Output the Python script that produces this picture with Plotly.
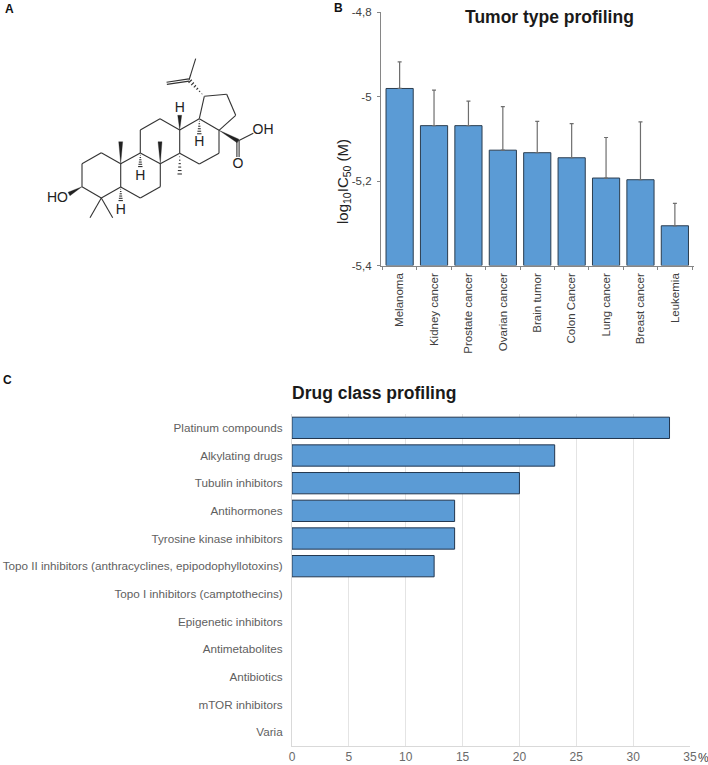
import math
import plotly.graph_objects as go

# Panel B
tumor_types = ["Melanoma", "Kidney cancer", "Prostate cancer", "Ovarian cancer", "Brain tumor",
               "Colon Cancer", "Lung cancer", "Breast cancer", "Leukemia"]
log_ic50 = [-4.981, -5.069, -5.069, -5.127, -5.133, -5.145, -5.193, -5.197, -5.306]
log_ic50_upper = [-4.918, -4.985, -5.011, -5.024, -5.059, -5.064, -5.097, -5.060, -5.253]
b_tickvals = [-4.8, -5.0, -5.2, -5.4]
b_ticktext = ["-4,8", "-5", "-5,2", "-5,4"]

# Panel C
drug_classes = ["Platinum compounds", "Alkylating drugs", "Tubulin inhibitors", "Antihormones",
                "Tyrosine kinase inhibitors", "Topo II inhibitors (anthracyclines, epipodophyllotoxins)",
                "Topo I inhibitors (camptothecins)", "Epigenetic inhibitors", "Antimetabolites",
                "Antibiotics", "mTOR inhibitors", "Varia"]
drug_pct = [33.2, 23.1, 20.0, 14.3, 14.3, 12.5, 0, 0, 0, 0, 0, 0]
c_ticks = [0, 5, 10, 15, 20, 25, 30, 35]

# Panel A: molecule in figure pixels
atoms = {
    "a1": (101.3, 152.7), "a2": (82, 163.7), "a3": (82, 186.7), "a4": (101.3, 198), "a5": (120.7, 187), "a6": (120.7, 163.7),
    "b1": (140.3, 153), "b2": (160.3, 163.7), "b3": (160.3, 186.7), "b4": (140.3, 198),
    "c1": (140.3, 130), "c2": (160, 118.7), "c3": (179.7, 130), "c4": (179.7, 153.3),
    "d1": (199.3, 118.7), "d2": (219, 130.3), "d3": (219, 153.3), "d4": (199.3, 164),
    "e1": (204.3, 96.3), "e2": (226.7, 94.3), "e3": (235.7, 115.3),
    "f": (189, 80), "f_me": (195.7, 58.7), "f_ch2": (166.7, 83.3),
    "g": (238, 141), "g_oh": (253.3, 133.3), "g_o": (238, 157),
    "m1": (120.7, 141.7), "m2": (160, 141.7), "m3": (179.7, 175.7),
    "q1": (90, 217.7), "q2": (112.7, 217.7), "oh": (69, 194),
    "h1": (179.7, 115.3), "h2": (199.3, 135), "h3": (140.3, 167.7), "h4": (120.7, 201.7),
}
plain_bonds = [("a1", "a2"), ("a2", "a3"), ("a3", "a4"), ("a4", "a5"), ("a5", "a6"), ("a6", "a1"),
               ("a6", "b1"), ("b1", "b2"), ("b2", "b3"), ("b3", "b4"), ("b4", "a5"),
               ("b1", "c1"), ("c1", "c2"), ("c2", "c3"), ("c3", "c4"), ("c4", "b2"),
               ("c3", "d1"), ("d1", "d2"), ("d2", "d3"), ("d3", "d4"), ("d4", "c4"),
               ("d1", "e1"), ("e1", "e2"), ("e2", "e3"), ("e3", "d2"),
               ("f", "f_me"), ("g", "g_oh"), ("a4", "q1"), ("a4", "q2")]
double_bonds = [("f", "f_ch2"), ("g", "g_o")]
wedge_bonds = [("a6", "m1"), ("b2", "m2"), ("a3", "oh"), ("d2", "g"), ("c3", "h1")]
hash_bonds = [("e1", "f"), ("c4", "m3"), ("d1", "h2"), ("b1", "h3"), ("a5", "h4")]
atom_labels = ["H", "H", "H", "H", "HO", "OH", "O"]
atom_label_x = [179.7, 199.3, 140.3, 120.7, 57.5, 263, 238]
atom_label_y = [108, 142, 176, 210, 198, 130.5, 164]

panel_letters = ["A", "B", "C"]
panel_letter_x = [9, 338, 7]
panel_letter_y = [9, 8, 380]
WIDTH, HEIGHT = 708, 765
BLUE = "#5b9bd5"


def normal(p, q):
    dx, dy = q[0] - p[0], q[1] - p[1]
    n = math.hypot(dx, dy)
    return -dy / n, dx / n


bx, by = [], []
for u, v in plain_bonds:
    bx += [atoms[u][0], atoms[v][0], None]
    by += [atoms[u][1], atoms[v][1], None]
for u, v in double_bonds:
    p, q = atoms[u], atoms[v]
    nx, ny = normal(p, q)
    for s in (-1.1, 1.1):
        bx += [p[0] + s * nx, q[0] + s * nx, None]
        by += [p[1] + s * ny, q[1] + s * ny, None]
for u, v in hash_bonds:
    p, q = atoms[u], atoms[v]
    nx, ny = normal(p, q)
    for i in range(1, 7):
        t = i / 6.5
        w = 2.4 * t
        cx, cy = p[0] + (q[0] - p[0]) * t, p[1] + (q[1] - p[1]) * t
        bx += [cx - w * nx, cx + w * nx, None]
        by += [cy - w * ny, cy + w * ny, None]
wx, wy = [], []
for u, v in wedge_bonds:
    p, q = atoms[u], atoms[v]
    nx, ny = normal(p, q)
    wx += [p[0], q[0] + 2 * nx, q[0] - 2 * nx, p[0], None]
    wy += [p[1], q[1] + 2 * ny, q[1] - 2 * ny, p[1], None]

fig = go.Figure()

# Panel B
fig.add_trace(go.Bar(
    x=tumor_types, y=[v - (-5.4) for v in log_ic50], base=-5.4, width=0.79,
    marker=dict(color=BLUE, line=dict(color="#2b3d4f", width=1)),
    xaxis="x", yaxis="y", showlegend=False))
fig.add_trace(go.Scatter(
    x=tumor_types, y=log_ic50, mode="markers", marker=dict(size=1, opacity=0),
    error_y=dict(type="data", symmetric=False,
                 array=[u - v for u, v in zip(log_ic50_upper, log_ic50)],
                 arrayminus=[0] * len(log_ic50), color="#6e6e6e", thickness=1.2, width=2),
    xaxis="x", yaxis="y", showlegend=False))

# Panel C
fig.add_trace(go.Bar(
    y=drug_classes, x=drug_pct, orientation="h", width=0.77,
    marker=dict(color=BLUE, line=dict(color="#22364f", width=[1 if v > 0 else 0 for v in drug_pct])),
    xaxis="x2", yaxis="y2", showlegend=False))

# Panel A
fig.add_trace(go.Scatter(x=bx, y=by, mode="lines", line=dict(color="#333333", width=1.1),
                         xaxis="x3", yaxis="y3", showlegend=False, hoverinfo="skip"))
fig.add_trace(go.Scatter(x=wx, y=wy, mode="lines", fill="toself", fillcolor="#222222",
                         line=dict(color="#222222", width=0.3),
                         xaxis="x3", yaxis="y3", showlegend=False, hoverinfo="skip"))
fig.add_trace(go.Scatter(x=atom_label_x, y=atom_label_y, mode="text", text=atom_labels,
                         textposition="middle center",
                         textfont=dict(family="Liberation Sans", size=14, color="#222222"),
                         xaxis="x3", yaxis="y3", showlegend=False, hoverinfo="skip"))

fig.update_layout(
    width=WIDTH, height=HEIGHT, autosize=False, margin=dict(l=0, r=0, t=0, b=0),
    paper_bgcolor="white", plot_bgcolor="rgba(0,0,0,0)",
    font=dict(family="Liberation Sans", size=12, color="#595959"),
    xaxis=dict(domain=[381 / WIDTH, 693.5 / WIDTH], anchor="y", type="category", automargin=False,
               categoryorder="array", categoryarray=tumor_types, tickson="boundaries",
               ticks="outside", ticklen=3, tickcolor="#868686", showline=True, linecolor="#868686",
               linewidth=1.2, tickangle=-90, ticklabelstandoff=2,
               tickfont=dict(size=11.5, color="#404040"), showgrid=False),
    yaxis=dict(domain=[1 - 265.5 / HEIGHT, 1 - 12 / HEIGHT], anchor="x", range=[-5.4, -4.8], automargin=False,
               tickvals=b_tickvals, ticktext=b_ticktext, ticks="outside", ticklen=3, tickcolor="#868686",
               showline=True, linecolor="#868686", linewidth=1.2, showgrid=False, zeroline=False,
               ticklabelstandoff=3, tickfont=dict(size=11.5, color="#404040")),
    xaxis2=dict(domain=[292 / WIDTH, 690 / WIDTH], anchor="y2", range=[0, 35], tickvals=c_ticks, automargin=False,
                showgrid=True, gridcolor="#e4e4e4", gridwidth=1, showline=True, linecolor="#d9d9d9",
                zeroline=False, ticks="", tickfont=dict(size=12, color="#6a6a6a")),
    yaxis2=dict(domain=[1 - 746 / HEIGHT, 1 - 414 / HEIGHT], anchor="x2", type="category", automargin=False,
                categoryorder="array", categoryarray=drug_classes, autorange="reversed",
                showline=True, linecolor="#d9d9d9", showgrid=False, ticks="", ticklabelstandoff=6,
                tickfont=dict(size=11.7, color="#5f5f5f")),
    xaxis3=dict(domain=[0, 1], range=[0, WIDTH], visible=False, anchor="y3", automargin=False),
    yaxis3=dict(domain=[0, 1], range=[HEIGHT, 0], visible=False, anchor="x3", automargin=False),
    annotations=[
        dict(x=549.5 / WIDTH, y=1 - 17 / HEIGHT, xref="paper", yref="paper", text="<b>Tumor type profiling</b>",
             showarrow=False, font=dict(size=17.5, color="#1a1a1a"), xanchor="center", yanchor="middle"),
        dict(x=374 / WIDTH, y=1 - 393 / HEIGHT, xref="paper", yref="paper", text="<b>Drug class profiling</b>",
             showarrow=False, font=dict(size=17.5, color="#1a1a1a"), xanchor="center", yanchor="middle"),
        dict(x=703 / WIDTH, y=1 - 758 / HEIGHT, xref="paper", yref="paper", text="%",
             showarrow=False, font=dict(size=12, color="#404040"), xanchor="center", yanchor="middle"),
        dict(x=343 / WIDTH, y=1 - 182 / HEIGHT, xref="paper", yref="paper",
             text="log<sub>10</sub>IC<sub>50</sub> (M)", textangle=-90,
             showarrow=False, font=dict(size=15, color="#222222"), xanchor="center", yanchor="middle"),
    ] + [
        dict(x=lx / WIDTH, y=1 - ly / HEIGHT, xref="paper", yref="paper", text=f"<b>{t}</b>",
             showarrow=False, font=dict(size=12, color="#111111"), xanchor="center", yanchor="middle")
        for t, lx, ly in zip(panel_letters, panel_letter_x, panel_letter_y)
    ],
)

fig.write_html("out.html", config={"displayModeBar": False},
               post_script="document.body.style.margin='0';document.body.style.overflow='hidden';")
